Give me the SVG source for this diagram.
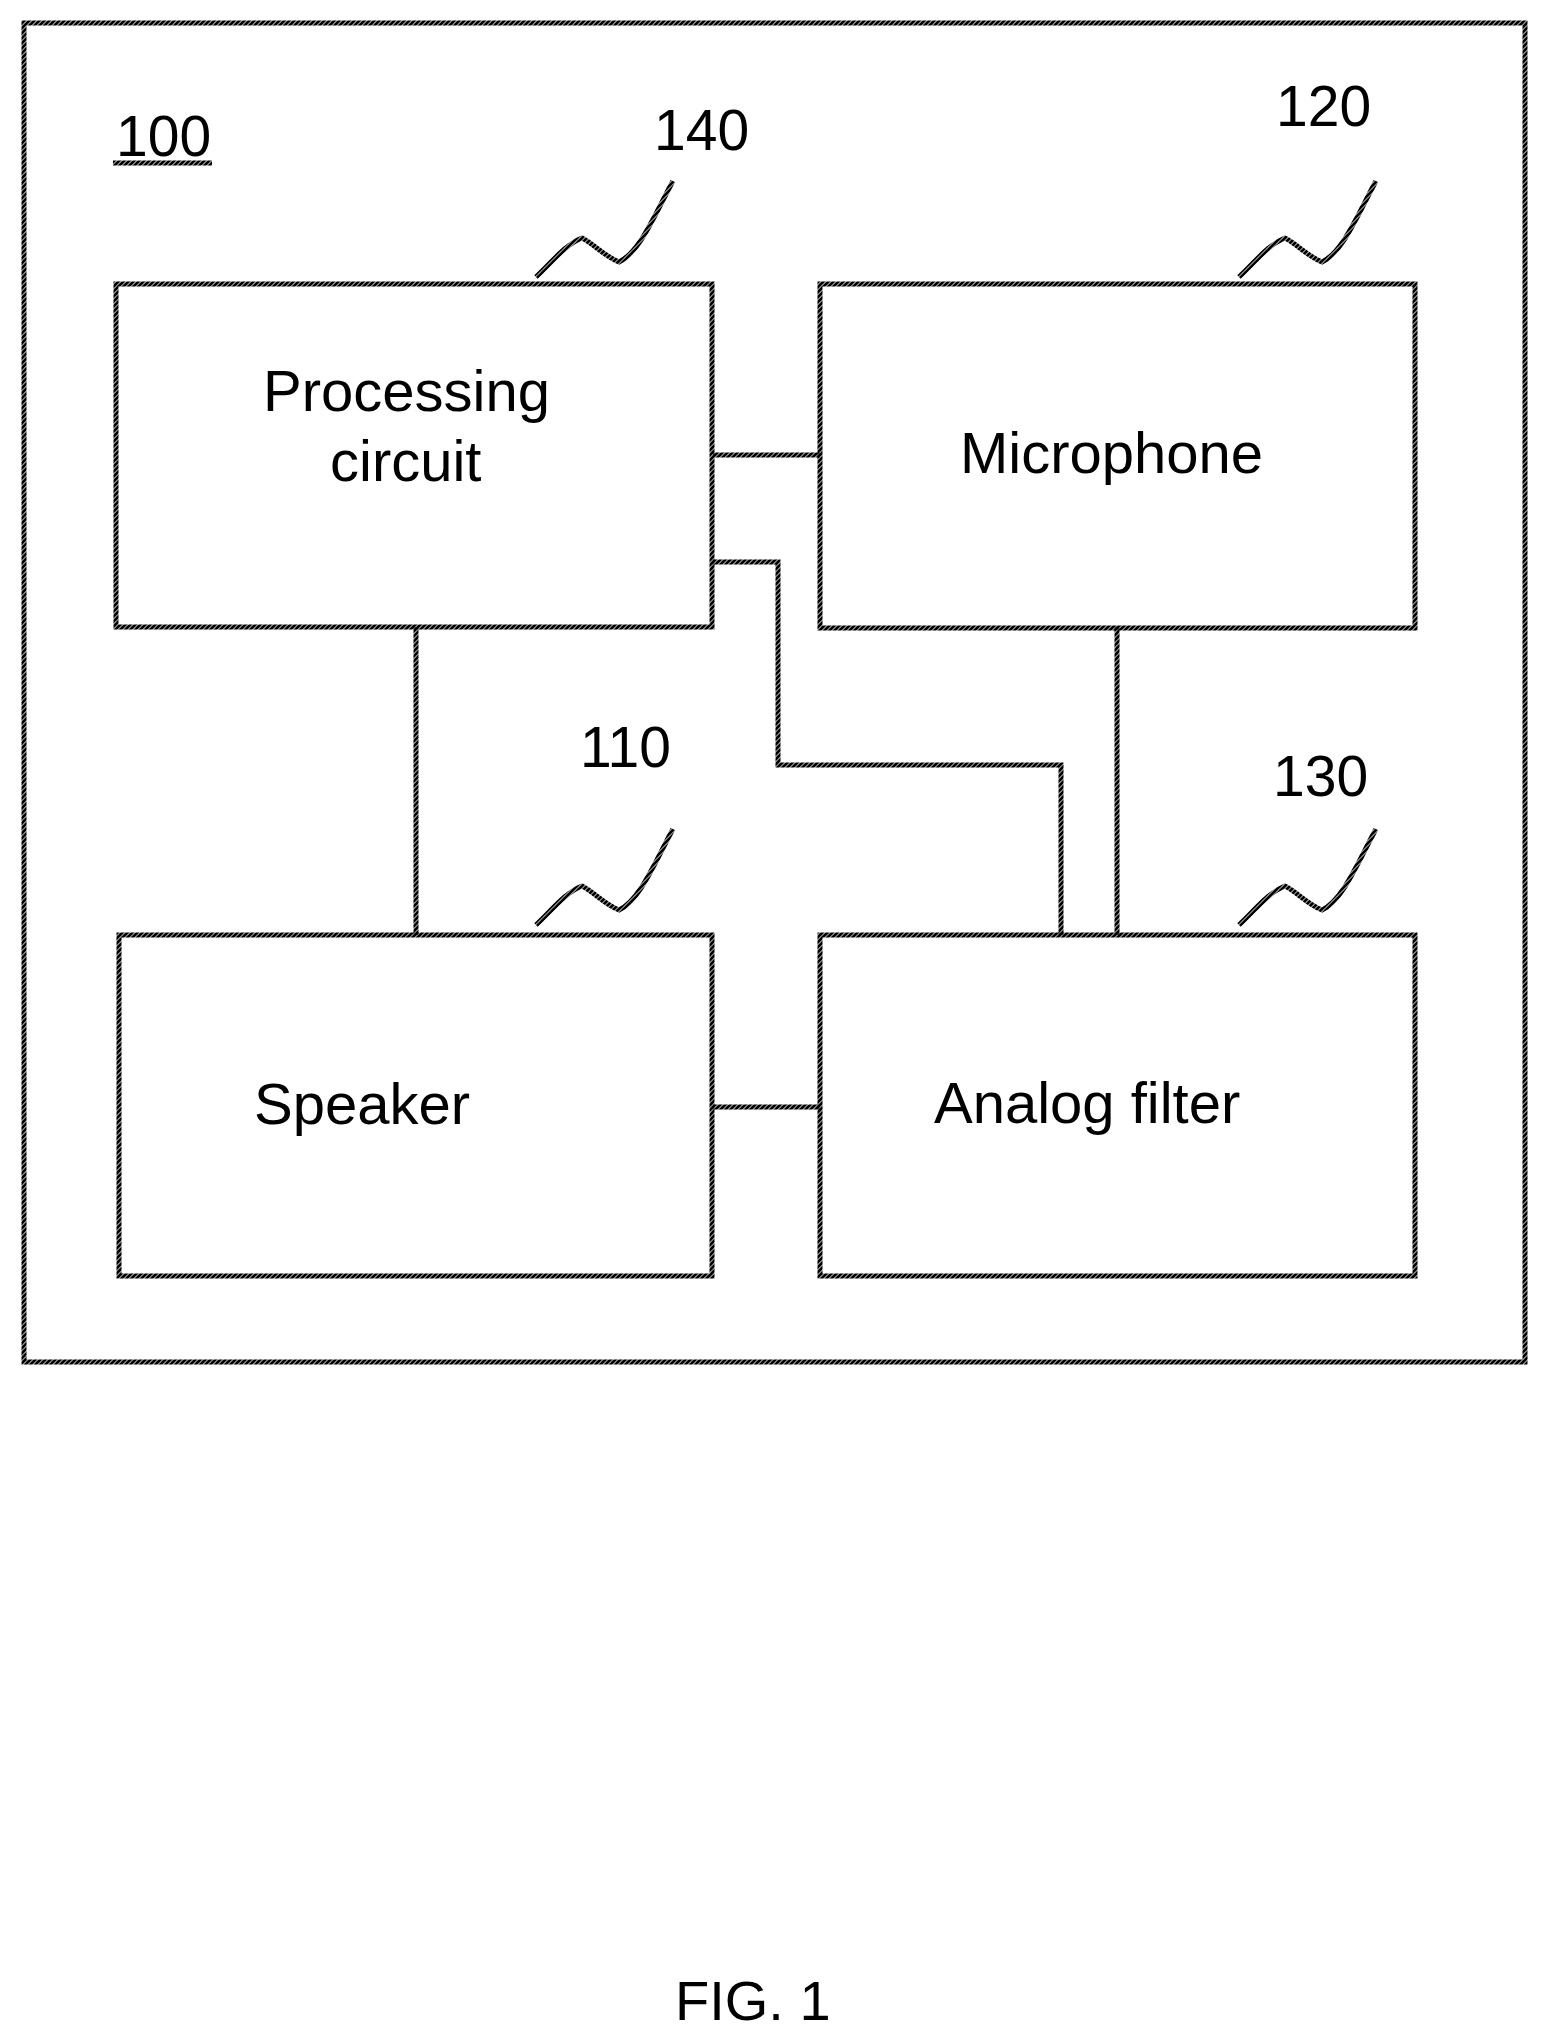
<svg xmlns="http://www.w3.org/2000/svg" width="1547" height="2041" viewBox="0 0 1547 2041">
<style>
.box{fill:none;stroke:url(#jag);stroke-width:5}
.wire{fill:none;stroke:url(#jag);stroke-width:5}
.lead{fill:none;stroke:url(#jag);stroke-width:5}
text{font-family:"Liberation Sans",Arial,sans-serif;font-size:57px;fill:#000}
.label{font-size:58px}
.fig{font-size:56px}
</style>
<defs>
<pattern id="jag" width="5" height="5" patternUnits="userSpaceOnUse">
<path d="M-1 6L6 -1M-1 1L1 -1M4 6L6 4" stroke="#000" stroke-width="2.9" fill="none"/>
</pattern>
<path id="leader" d="M536 277C552 262 566 244 582 238C594 244 604 256 619 262C640 252 655 214 673 181"/>
</defs>
<rect width="1547" height="2041" fill="#fff"/>
<g id="connectors">
<path class="wire" d="M713 455H820"/>
<path class="wire" d="M713 562H778V765H1061V935"/>
<path class="wire" d="M416 627V935"/>
<path class="wire" d="M1117 627V935"/>
<path class="wire" d="M713 1107H820"/>
</g>
<g id="system-100">
<rect class="box" x="24" y="23" width="1501" height="1339"/>
<text x="116" y="156">100</text>
<path class="wire" d="M113 163H212"/>
</g>
<g id="processing-circuit">
<rect class="box" x="116" y="284" width="596" height="343"/>
<text class="label" x="263" y="411">Processing</text>
<text class="label" x="330" y="481">circuit</text>
<use class="lead" href="#leader"/>
<text x="654" y="150">140</text>
</g>
<g id="microphone">
<rect class="box" x="820" y="284" width="595" height="344"/>
<text class="label" x="960" y="473">Microphone</text>
<use class="lead" href="#leader" transform="translate(703 0)"/>
<text x="1276" y="126">120</text>
</g>
<g id="speaker">
<rect class="box" x="119" y="935" width="593" height="341"/>
<text class="label" x="254" y="1124">Speaker</text>
<use class="lead" href="#leader" transform="translate(0 648)"/>
<text x="580" y="767">110</text>
</g>
<g id="analog-filter">
<rect class="box" x="820" y="935" width="595" height="341"/>
<text class="label" x="934" y="1123">Analog filter</text>
<use class="lead" href="#leader" transform="translate(703 648)"/>
<text x="1273" y="796">130</text>
</g>
<text class="fig" id="figure-label" x="675" y="2020">FIG. 1</text>
</svg>
